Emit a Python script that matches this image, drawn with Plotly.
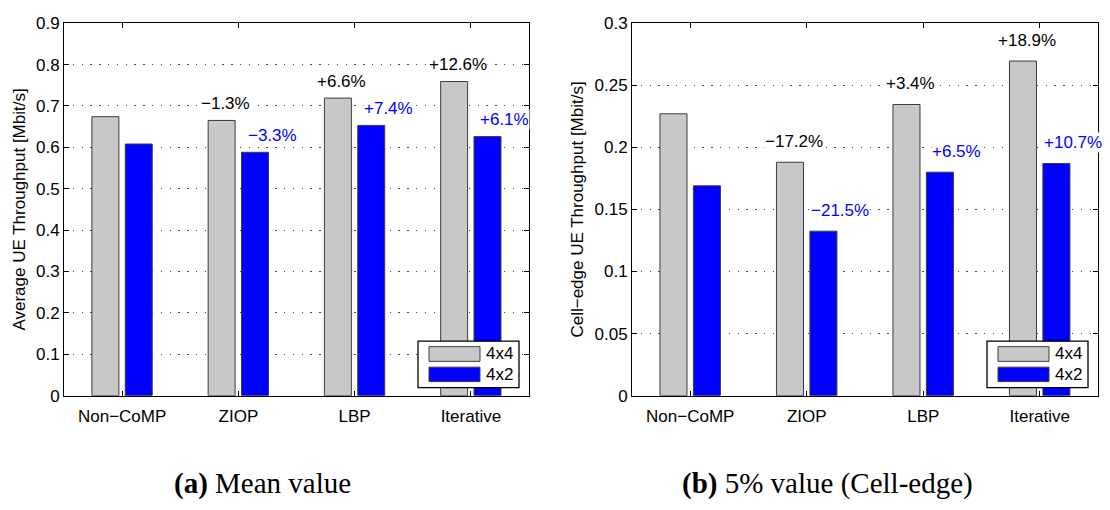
import plotly.graph_objects as go

# Scheme names on the x axis
schemes = ["Non−CoMP", "ZIOP", "LBP", "Iterative"]

# Mean UE throughput [Mbit/s]
mean_4x4 = [0.674, 0.665, 0.719, 0.759]
mean_4x2 = [0.608, 0.588, 0.653, 0.626]
mean_4x4_labels = ["", "−1.3%", "+6.6%", "+12.6%"]
mean_4x2_labels = ["", "−3.3%", "+7.4%", "+6.1%"]

# 5% (cell-edge) UE throughput [Mbit/s]
edge_4x4 = [0.227, 0.188, 0.2345, 0.2695]
edge_4x2 = [0.169, 0.1325, 0.180, 0.187]
edge_4x4_labels = ["", "−17.2%", "+3.4%", "+18.9%"]
edge_4x2_labels = ["", "−21.5%", "+6.5%", "+10.7%"]

series_names = ["4x4", "4x2"]

W, H = 1110, 510
FONT = "Liberation Sans, Arial, sans-serif"
GRAY = "#c8c8c8"
BLUE = "#0000ff"
EDGE = "#3c3c3c"
BAR_W = 0.232
OFFS = [-0.26, 0.027]

# axis frames in pixels: (left, right) horizontally, (top, bottom) vertically
frames = [(64, 529), (632, 1098)]
top_px, bot_px = 14.7, 401.7


def px_x(p):
    return p / W


def px_y(p):
    return 1 - p / H


xpos = list(range(1, len(schemes) + 1))
fig = go.Figure()

panels = [
    (mean_4x4, mean_4x2, mean_4x4_labels, mean_4x2_labels, "x", "y", 0.9, 0.1,
     "Average UE Throughput [Mbit/s]", 17),
    (edge_4x4, edge_4x2, edge_4x4_labels, edge_4x2_labels, "x2", "y2", 0.3, 0.05,
     "Cell−edge UE Throughput [Mbit/s]", 21),
]

annotations = []
shapes = []

for i, (v44, v42, l44, l42, xa, ya, ymax, dtick, ytitle, ysh) in enumerate(panels):
    for vals, labels, color, off, name, lblcolor, xsh in [
        (v44, l44, GRAY, OFFS[0], series_names[0], "black", 4),
        (v42, l42, BLUE, OFFS[1], series_names[1], BLUE, 17),
    ]:
        fig.add_trace(go.Bar(
            x=xpos, y=vals, width=BAR_W, offset=off, name=name,
            marker=dict(color=color, line=dict(color=EDGE, width=1)),
            xaxis=xa, yaxis=ya, showlegend=False,
        ))
        for xv, yv, t in zip(xpos, vals, labels):
            if not t:
                continue
            annotations.append(dict(
                x=xv + off + BAR_W / 2, y=yv, xref=xa, yref=ya, text=t,
                showarrow=False, xshift=xsh, yshift=ysh, yanchor="middle",
                font=dict(family=FONT, size=17, color=lblcolor),
                bgcolor="white", borderpad=0,
            ))

    left, right = frames[i]
    sfx = "" if i == 0 else str(i + 1)
    axis_common = dict(
        showline=True, linecolor="black", linewidth=1, mirror="ticks",
        ticks="inside", ticklen=5, tickcolor="black", tickwidth=1,
        tickfont=dict(family=FONT, size=17, color="black"),
        zeroline=False,
    )
    fig.layout["xaxis" + sfx] = dict(
        axis_common, domain=[px_x(left), px_x(right)], anchor=ya,
        range=[0.5, len(schemes) + 0.5], tickvals=xpos, ticktext=schemes,
        showgrid=False, ticklabelstandoff=5,
    )
    fig.layout["yaxis" + sfx] = dict(
        axis_common, domain=[px_y(bot_px), px_y(top_px)], anchor=xa,
        range=[0, ymax], dtick=dtick, showgrid=True, gridcolor="#4a4a4a",
        griddash="1.3px,7.5px", gridwidth=1,
        title=dict(text=ytitle, font=dict(family=FONT, size=17, color="black"),
                   standoff=6),
    )

    # legend box drawn in the lower right corner of each panel
    bx0, bx1 = right - 111, right - 10
    by0, by1 = 345, 393.3
    shapes.append(dict(type="rect", xref="paper", yref="paper",
                       x0=px_x(bx0), x1=px_x(bx1), y0=px_y(by1), y1=px_y(by0),
                       fillcolor="white", line=dict(color="black", width=1.3),
                       layer="above"))
    for k, (color, (sy0, sy1)) in enumerate(zip([GRAY, BLUE],
                                                [(350.7, 366), (372, 387)])):
        shapes.append(dict(type="rect", xref="paper", yref="paper",
                           x0=px_x(bx0 + 11), x1=px_x(bx0 + 62),
                           y0=px_y(sy1), y1=px_y(sy0),
                           fillcolor=color, line=dict(color=EDGE, width=1),
                           layer="above"))
        annotations.append(dict(
            x=px_x(bx0 + 66), y=px_y((sy0 + sy1) / 2), xref="paper", yref="paper",
            text=series_names[k], showarrow=False, xanchor="left", yanchor="middle",
            font=dict(family=FONT, size=17, color="black"),
        ))

# sub-figure captions
CAP = "Liberation Serif, Times New Roman, serif"
for cx, txt in [(262, "<b>(a)</b> Mean value"), (827, "<b>(b)</b> 5% value (Cell-edge)")]:
    annotations.append(dict(
        x=px_x(cx), y=px_y(493), xref="paper", yref="paper", text=txt,
        showarrow=False, xanchor="center", yanchor="middle",
        font=dict(family=CAP, size=29, color="black"),
    ))

fig.update_layout(
    width=W, height=H, margin=dict(l=0, r=0, t=0, b=0),
    paper_bgcolor="white", plot_bgcolor="white",
    barmode="overlay", annotations=annotations, shapes=shapes,
)

fig.write_html("out.html")
